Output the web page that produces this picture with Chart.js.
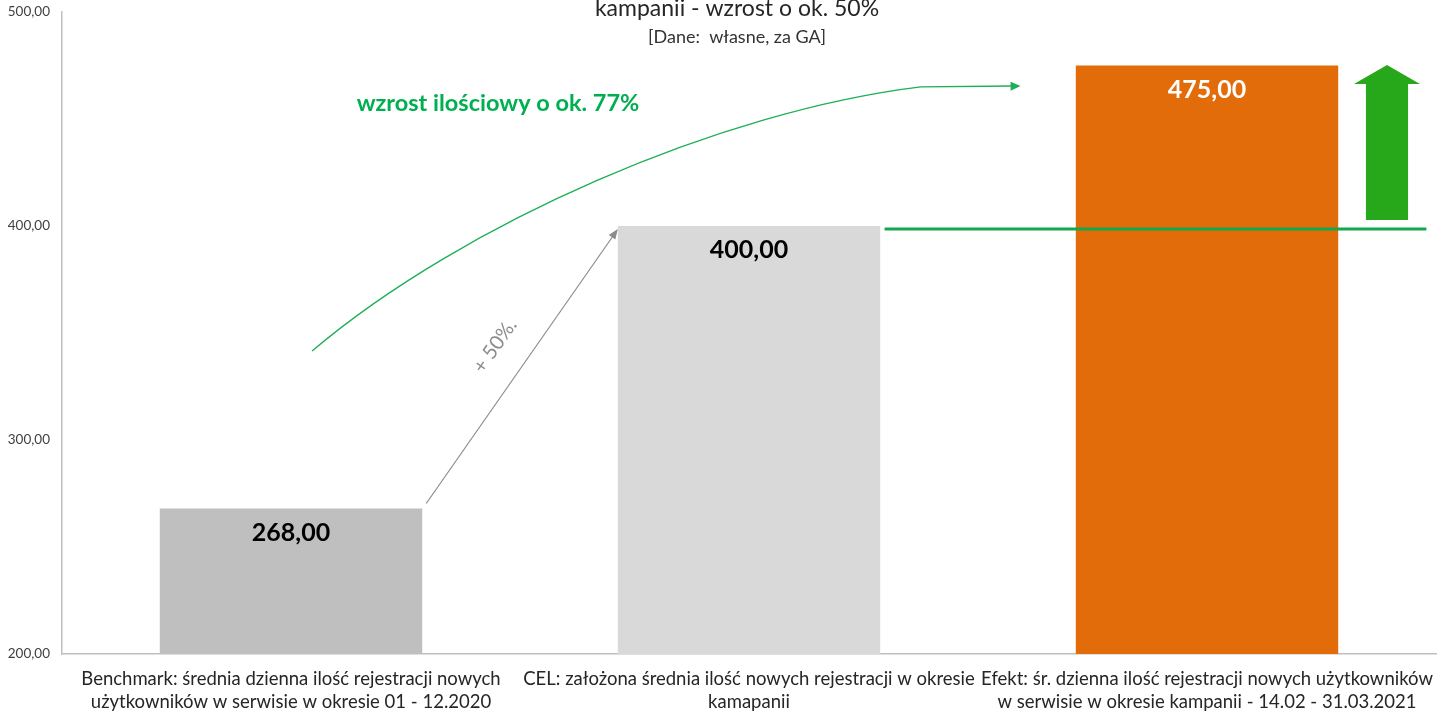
<!DOCTYPE html>
<html lang="pl">
<head>
<meta charset="utf-8">
<title>Rejestracje nowych użytkowników</title>
<script src="https://cdn.jsdelivr.net/npm/chart.js@4/dist/chart.umd.min.js"></script>
<style>
  html, body { margin: 0; padding: 0; background: #ffffff; }
  #wrap { position: relative; width: 1447px; height: 713px; }
</style>
</head>
<body>
<div id="wrap"><canvas id="chart"></canvas></div>
<script>
// Categories (two-line axis labels)
const categories = [
  ['Benchmark: średnia dzienna ilość rejestracji nowych', 'użytkowników w serwisie w okresie 01 - 12.2020'],
  ['CEL: założona średnia ilość nowych rejestracji w okresie', 'kamapanii'],
  ['Efekt: śr. dzienna ilość rejestracji nowych użytkowników', 'w serwisie w okresie kampanii - 14.02 - 31.03.2021']
];
// Average daily registrations
const registrations = [268, 400, 475];
const barColors = ['#BFBFBF', '#D9D9D9', '#E36C0A'];
const labelColors = ['#000000', '#000000', '#FFFFFF'];
// Y axis
const yMin = 200, yMax = 500, yStep = 100;
// Reference level of the target
const targetLevel = [398.6];

const titleLines = ['kampanii - wzrost o ok. 50%', '[Dane:  własne, za GA]'];
const growthText = 'wzrost ilościowy o ok. 77%';
const stepText = '+ 50%.';

const FONT = 'Lato, "Open Sans", sans-serif';
const GREEN = '#1DAF55';

function fmt(v) {
  return v.toFixed(2).replace('.', ',');
}

function arrowHead(ctx, x1, y1, x2, y2, len, half, color) {
  const a = Math.atan2(y2 - y1, x2 - x1);
  ctx.save();
  ctx.fillStyle = color;
  ctx.beginPath();
  ctx.moveTo(x2, y2);
  ctx.lineTo(x2 - len * Math.cos(a) + half * Math.sin(a), y2 - len * Math.sin(a) - half * Math.cos(a));
  ctx.lineTo(x2 - len * Math.cos(a) - half * Math.sin(a), y2 - len * Math.sin(a) + half * Math.cos(a));
  ctx.closePath();
  ctx.fill();
  ctx.restore();
}

const decorations = {
  id: 'decorations',
  afterDatasetsDraw(chart) {
    const ctx = chart.ctx;
    const xs = chart.scales.x, ys = chart.scales.y;
    const P = (c, v) => [xs.getPixelForValue(c), ys.getPixelForValue(v)];
    const bars = chart.getDatasetMeta(0).data;

    // value labels inside the bars
    ctx.save();
    ctx.font = 'bold 25px ' + FONT;
    ctx.textAlign = 'center';
    ctx.textBaseline = 'middle';
    bars.forEach((b, i) => {
      ctx.fillStyle = labelColors[i];
      ctx.fillText(fmt(registrations[i]), b.x, b.y + 24);
    });
    ctx.restore();

    // title
    ctx.save();
    ctx.textAlign = 'center';
    ctx.textBaseline = 'middle';
    ctx.fillStyle = '#262626';
    ctx.font = '23px ' + FONT;
    ctx.fillText(titleLines[0], 737, 9);
    ctx.font = '18px ' + FONT;
    ctx.fillStyle = '#333333';
    ctx.fillText(titleLines[1], 737, 37);
    ctx.restore();

    // gray arrow between the first two bars
    const b0 = bars[0], b1 = bars[1];
    const sx = b0.x + b0.width / 2 + 4, sy = b0.y - 5;
    const ex = b1.x - b1.width / 2, ey = ys.getPixelForValue(targetLevel[0]);
    ctx.save();
    ctx.strokeStyle = '#8C8C8C';
    ctx.lineWidth = 1.2;
    ctx.beginPath();
    ctx.moveTo(sx, sy);
    ctx.lineTo(ex - 3, ey + 4.5);
    ctx.stroke();
    arrowHead(ctx, sx, sy, ex, ey, 10, 4, '#8C8C8C');
    // rotated "+ 50%."
    const ang = Math.atan2(ey - sy, ex - sx);
    ctx.translate(495, 346);
    ctx.rotate(ang);
    ctx.font = '20px ' + FONT;
    ctx.fillStyle = '#8C8C8C';
    ctx.textAlign = 'center';
    ctx.textBaseline = 'middle';
    ctx.fillText(stepText, 0, 0);
    ctx.restore();

    // green growth curve
    const c0 = P(0.046, 341.6), k1 = P(0.374, 401.2), k2 = P(0.938, 453.7),
          c1 = P(1.375, 465.0), c2 = P(1.593, 465.4);
    ctx.save();
    ctx.strokeStyle = GREEN;
    ctx.lineWidth = 1.4;
    ctx.beginPath();
    ctx.moveTo(c0[0], c0[1]);
    ctx.bezierCurveTo(k1[0], k1[1], k2[0], k2[1], c1[0], c1[1]);
    ctx.lineTo(c2[0] - 8, c2[1]);
    ctx.stroke();
    arrowHead(ctx, c1[0], c1[1], c2[0], c2[1], 10, 4.5, GREEN);
    const t = P(0.452, 457.5);
    ctx.font = 'bold 23.5px ' + FONT;
    ctx.fillStyle = '#00B050';
    ctx.textAlign = 'center';
    ctx.textBaseline = 'middle';
    ctx.fillText(growthText, t[0], t[1]);
    ctx.restore();

    // green target line
    const l0 = P(1.296, targetLevel[0]), l1 = P(2.479, targetLevel[0]);
    ctx.save();
    ctx.strokeStyle = '#13A84C';
    ctx.lineWidth = 3;
    ctx.beginPath();
    ctx.moveTo(l0[0], l0[1]);
    ctx.lineTo(l1[0], l1[1]);
    ctx.stroke();
    ctx.restore();

    // big green up arrow
    const hl = xs.getPixelForValue(2.321), hr = xs.getPixelForValue(2.465);
    const sl = xs.getPixelForValue(2.347), sr = xs.getPixelForValue(2.439);
    const top = ys.getPixelForValue(475.2), base = ys.getPixelForValue(466.4), bot = ys.getPixelForValue(402.8);
    ctx.save();
    ctx.fillStyle = '#27A81B';
    ctx.beginPath();
    ctx.moveTo((hl + hr) / 2, top);
    ctx.lineTo(hr, base);
    ctx.lineTo(sr, base);
    ctx.lineTo(sr, bot);
    ctx.lineTo(sl, bot);
    ctx.lineTo(sl, base);
    ctx.lineTo(hl, base);
    ctx.closePath();
    ctx.fill();
    ctx.restore();
  }
};

new Chart(document.getElementById('chart'), {
  type: 'bar',
  data: {
    labels: categories,
    datasets: [{
      data: registrations,
      backgroundColor: barColors,
      borderWidth: 0,
      categoryPercentage: 1,
      barPercentage: 0.573
    }]
  },
  options: {
    responsive: true,
    maintainAspectRatio: false,
    animation: false,
    layout: { padding: { top: 12, right: 11, left: 0, bottom: 0 } },
    plugins: {
      legend: { display: false },
      tooltip: { enabled: false },
      title: { display: false }
    },
    scales: {
      x: {
        grid: { display: false, drawTicks: false },
        border: { display: true, color: '#BFBFBF', width: 1.5 },
        ticks: {
          color: '#262626',
          font: { family: FONT, size: 18.5, lineHeight: 1.25 },
          padding: 13,
          maxRotation: 0,
          autoSkip: false
        },
        afterFit(s) { s.height = 59; s.paddingLeft = 0; s.paddingRight = 0; }
      },
      y: {
        min: yMin,
        max: yMax,
        grid: { display: false, drawTicks: false },
        border: { display: true, color: '#BFBFBF', width: 1.5 },
        ticks: {
          stepSize: yStep,
          color: '#404040',
          font: { family: FONT, size: 13.5 },
          padding: 12,
          callback: v => fmt(v)
        },
        afterFit(s) { s.width = 62; s.paddingTop = 0; s.paddingBottom = 0; }
      }
    }
  },
  plugins: [decorations]
});
</script>
</body>
</html>
